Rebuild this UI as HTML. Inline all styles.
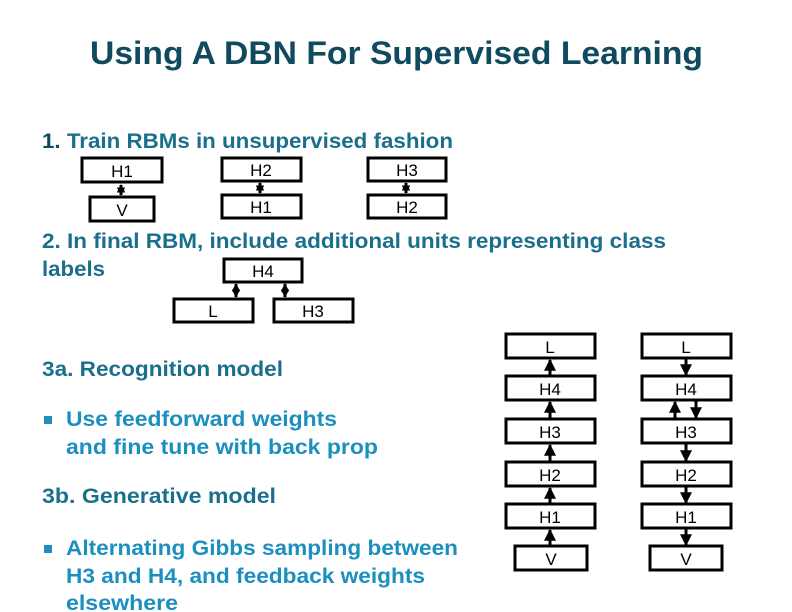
<!DOCTYPE html>
<html><head><meta charset="utf-8"><style>
html,body{margin:0;padding:0;background:#fff;}
svg{display:block;}
</style></head><body>
<svg width="792" height="612" viewBox="0 0 792 612" xmlns="http://www.w3.org/2000/svg" font-family="Liberation Sans, sans-serif">
<defs>
<marker id="ah" viewBox="0 0 10 10" refX="9" refY="5" markerWidth="4" markerHeight="4" orient="auto-start-reverse"><path d="M0,0 L10,5 L0,10 z" fill="#000"/></marker>
<marker id="as" viewBox="0 0 10 10" refX="9" refY="5" markerWidth="2.8" markerHeight="2.8" orient="auto-start-reverse"><path d="M0,0 L10,5 L0,10 z" fill="#000"/></marker>
</defs>
<text x="90" y="64" font-size="32" font-weight="bold" fill="#0f4a5e" textLength="613" lengthAdjust="spacingAndGlyphs">Using A DBN For Supervised Learning</text>
<g font-weight="bold" font-size="21" fill="#1a6f8c">
<text x="42" y="148" textLength="411" lengthAdjust="spacingAndGlyphs"><tspan fill="#0f4a5e">1.</tspan> Train RBMs in unsupervised fashion</text>
<text x="42" y="248" textLength="624" lengthAdjust="spacingAndGlyphs">2. In final RBM, include additional units representing class</text>
<text x="42" y="276" textLength="63" lengthAdjust="spacingAndGlyphs">labels</text>
<text x="42" y="376" textLength="241" lengthAdjust="spacingAndGlyphs">3a. Recognition model</text>
<text x="42" y="503" textLength="234" lengthAdjust="spacingAndGlyphs">3b. Generative model</text>
</g>
<g font-weight="bold" font-size="21" fill="#1a8fc0">
<rect x="44" y="416" width="8" height="8"/>
<text x="66" y="426" textLength="271" lengthAdjust="spacingAndGlyphs">Use feedforward weights</text>
<text x="66" y="454" textLength="312" lengthAdjust="spacingAndGlyphs">and fine tune with back prop</text>
<rect x="44" y="545" width="8" height="8"/>
<text x="66" y="555" textLength="392" lengthAdjust="spacingAndGlyphs">Alternating Gibbs sampling between</text>
<text x="66" y="583" textLength="359" lengthAdjust="spacingAndGlyphs">H3 and H4, and feedback weights</text>
<text x="66" y="610" textLength="112" lengthAdjust="spacingAndGlyphs">elsewhere</text>
</g>
<g fill="#fff" stroke="#000" stroke-width="3">
<rect x="82" y="158" width="80" height="24"/><rect x="90" y="197" width="64" height="24"/>
<rect x="222" y="158" width="79" height="23"/><rect x="222" y="195" width="79" height="23"/>
<rect x="368" y="158" width="78" height="23"/><rect x="368" y="195" width="78" height="23"/>
<rect x="224" y="259" width="78" height="23"/>
<rect x="174" y="299" width="79" height="23"/><rect x="274" y="299" width="79" height="23"/>
<rect x="506" y="334" width="89" height="24"/><rect x="506" y="376" width="89" height="24"/>
<rect x="506" y="419" width="89" height="24"/><rect x="506" y="462" width="89" height="24"/>
<rect x="506" y="504" width="89" height="24"/><rect x="515" y="546" width="72" height="24"/>
<rect x="642" y="334" width="89" height="24"/><rect x="642" y="376" width="89" height="24"/>
<rect x="642" y="419" width="89" height="24"/><rect x="642" y="462" width="89" height="24"/>
<rect x="642" y="504" width="89" height="24"/><rect x="650" y="546" width="72" height="24"/>
</g>
<g font-size="17" text-anchor="middle" fill="#000">
<text x="122" y="177">H1</text><text x="122" y="216">V</text>
<text x="261" y="176">H2</text><text x="261" y="213">H1</text>
<text x="407" y="176">H3</text><text x="407" y="213">H2</text>
<text x="263" y="277">H4</text>
<text x="213" y="317">L</text><text x="313" y="317">H3</text>
<text x="550" y="353">L</text><text x="550" y="395">H4</text><text x="550" y="438">H3</text>
<text x="550" y="481">H2</text><text x="550" y="523">H1</text><text x="551" y="565">V</text>
<text x="686" y="353">L</text><text x="686" y="395">H4</text><text x="686" y="438">H3</text>
<text x="686" y="481">H2</text><text x="686" y="523">H1</text><text x="686" y="565">V</text>
</g>
<g stroke="#000" stroke-width="3">
<line x1="121" y1="185" x2="121" y2="195" marker-start="url(#as)" marker-end="url(#as)"/>
<line x1="260" y1="183" x2="260" y2="193" marker-start="url(#as)" marker-end="url(#as)"/>
<line x1="406" y1="183" x2="406" y2="193" marker-start="url(#as)" marker-end="url(#as)"/>
<line x1="236" y1="284" x2="236" y2="297" marker-start="url(#as)" marker-end="url(#as)"/>
<line x1="285" y1="284" x2="285" y2="297" marker-start="url(#as)" marker-end="url(#as)"/>
<line x1="550" y1="375" x2="550" y2="360" marker-end="url(#ah)"/>
<line x1="550" y1="418" x2="550" y2="402" marker-end="url(#ah)"/>
<line x1="550" y1="461" x2="550" y2="445" marker-end="url(#ah)"/>
<line x1="550" y1="503" x2="550" y2="488" marker-end="url(#ah)"/>
<line x1="550" y1="545" x2="550" y2="530" marker-end="url(#ah)"/>
<line x1="686" y1="359" x2="686" y2="375" marker-end="url(#ah)"/>
<line x1="675" y1="418" x2="675" y2="402" marker-end="url(#ah)"/>
<line x1="696" y1="401" x2="696" y2="418" marker-end="url(#ah)"/>
<line x1="686" y1="444" x2="686" y2="461" marker-end="url(#ah)"/>
<line x1="686" y1="487" x2="686" y2="503" marker-end="url(#ah)"/>
<line x1="686" y1="529" x2="686" y2="545" marker-end="url(#ah)"/>
</g>
</svg>
</body></html>
